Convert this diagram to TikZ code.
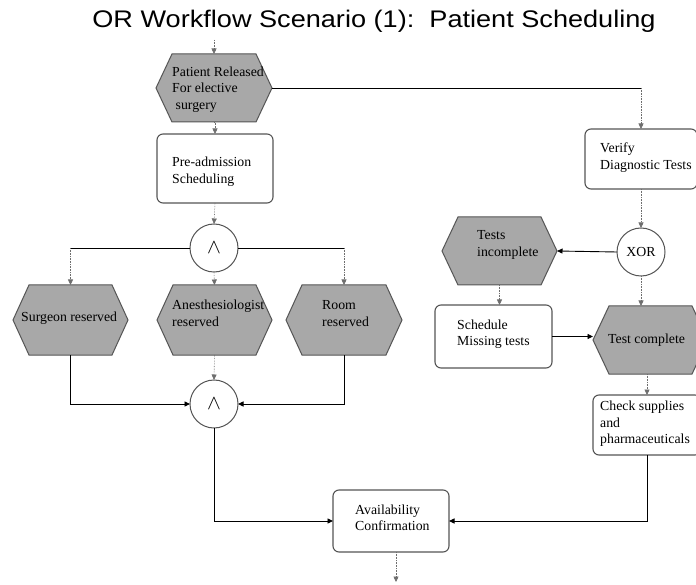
\documentclass[tikz,border=0pt]{standalone}
\usepackage{fontspec}
\usepackage{graphicx}
\setmainfont{Liberation Serif}
\newfontfamily\titlefont{Liberation Sans}
\usetikzlibrary{arrows.meta,calc}
\definecolor{hexgray}{RGB}{168,168,168}
\definecolor{edgegray}{RGB}{85,85,85}
\definecolor{dotgray}{RGB}{110,110,110}
\tikzset{
  x=1pt, y=-1pt,
  hexbg/.style={inner sep=0pt, outer sep=0pt, draw=none},
  hexfill/.style={fill=hexgray, draw=edgegray, line width=1pt},
  procbox/.style={draw=edgegray, line width=1.1pt, rounded corners=6pt, fill=white, inner sep=0pt, outer sep=0pt},
  gate/.style={circle, draw=edgegray, line width=1pt, fill=white, inner sep=0pt, outer sep=0pt, minimum size=48pt, font=\fontsize{13.8}{16}\selectfont},
  lbl/.style={anchor=west, align=left, inner sep=0pt, font=\fontsize{13.8}{16.5}\selectfont},
  tip/.style={-{Triangle[length=5.5pt,width=5pt]}},
  solidline/.style={draw=black, line width=0.9pt},
  dotline/.style={draw=dotgray, line width=0.6pt, densely dotted},
}
\newcommand\hexnode[5]{%
  \node[hexbg, minimum width=#4, minimum height=#5] (#1) at (#2,#3) {};
  \path[hexfill] (#1.west) -- ([xshift=16pt]#1.north west) -- ([xshift=-16pt]#1.north east)
    -- (#1.east) -- ([xshift=-16pt]#1.south east) -- ([xshift=16pt]#1.south west) -- cycle;}
\begin{document}
\begin{tikzpicture}
\useasboundingbox (0,0) rectangle (696,585);
\clip (0,0) rectangle (696,585);
\fill[white] (0,0) rectangle (696,585);

% title
\node[inner sep=0pt, font=\titlefont\fontsize{24}{26}\selectfont] (title) at (374,21) {\scalebox{1.13}[1]{OR Workflow Scenario (1):\ \ Patient Scheduling}};

% hexagons (events)
\hexnode{pr}{214}{88}{116}{68}
\hexnode{sur}{70.5}{320}{115}{70}
\hexnode{anes}{214.5}{320}{115}{70}
\hexnode{room}{344}{320}{116}{70}
\hexnode{ti}{499.5}{251}{115}{68}
\hexnode{tc}{650.5}{340}{115}{68}

% boxes (functions)
\node[procbox, minimum width=116pt, minimum height=69pt] (pre) at (215,168.5) {};
\node[procbox, minimum width=112pt, minimum height=60pt] (ver) at (641,159) {};
\node[procbox, minimum width=117pt, minimum height=63pt] (sch) at (493.5,336.5) {};
\node[procbox, minimum width=108pt, minimum height=60pt] (chk) at (647,425) {};
\node[procbox, minimum width=116pt, minimum height=62pt] (avail) at (391,521) {};

% gates
\node[gate] (and1) at (214,248) {\fontsize{22}{22}\selectfont$\wedge$};
\node[gate] (and2) at (214,404) {\fontsize{22}{22}\selectfont$\wedge$};
\node[gate] (xor) at (641,252) {XOR};

% labels
\node[lbl] (tpr) at (172,89.5) {Patient Released\\For elective\\\ surgery};
\node[lbl] (tpre) at (172,171.5) {Pre-admission\\Scheduling};
\node[lbl] (tsur) at (21,318) {Surgeon reserved};
\node[lbl] (tanes) at (172,313.5) {Anesthesiologist\\reserved};
\node[lbl] (troom) at (322,313.5) {Room\\reserved};
\node[lbl] (tver) at (600,157.5) {Verify\\Diagnostic Tests};
\node[lbl] (tti) at (477,245) {Tests\\incomplete};
\node[lbl] (tsch) at (457,334) {Schedule\\Missing tests};
\node[lbl] (ttc) at (608,340) {Test complete};
\node[lbl] (tchk) at (600,424) {Check supplies\\and\\pharmaceuticals};
\node[lbl] (tav) at (355,518) {Availability\\Confirmation};

% connectors
\coordinate (in0) at (214,40);
\coordinate (out0) at (396,582);
\draw[dotline, tip] (in0) -- (pr.north);
\draw[dotline, tip] (pr.south) -- (pr.south -| pre.north) -- (pre.north);
\draw[dotline, tip] (pre.south) -- (and1.north);

\draw[solidline] (sur.north |- and1.west) -- (and1.west);
\draw[solidline] (and1.east) -- (room.north |- and1.east);
\draw[dotline, tip] (sur.north |- and1.west) -- (sur.north);
\draw[dotline, tip] (room.north |- and1.east) -- (room.north);
\draw[dotline, tip] (and1.south) -- (anes.north);

\draw[dotline, tip] (anes.south) -- (and2.north);
\draw[solidline, tip] (sur.south) |- (and2.west);
\draw[solidline, tip] (room.south) |- (and2.east);
\draw[solidline, tip] (and2.south) |- (avail.west);

\draw[solidline] (pr.east) -- (pr.east -| ver.north);
\draw[dotline, tip] (pr.east -| ver.north) -- (ver.north);
\draw[dotline, tip] (ver.south) -- (xor.north);
\draw[solidline, tip] (xor.west) -- (ti.east);
\draw[dotline, tip] (ti.south) -- (ti.south |- sch.north);
\draw[solidline, tip] (sch.east) -- (sch.east -| tc.west);
\draw[dotline, tip] (xor.south) -- (xor.south |- tc.north);
\draw[dotline, tip] (chk.north |- tc.south) -- (chk.north);
\draw[solidline, tip] (chk.south) |- (avail.east);
\draw[dotline, tip] (avail.south -| out0) -- (out0);
\end{tikzpicture}
\end{document}
